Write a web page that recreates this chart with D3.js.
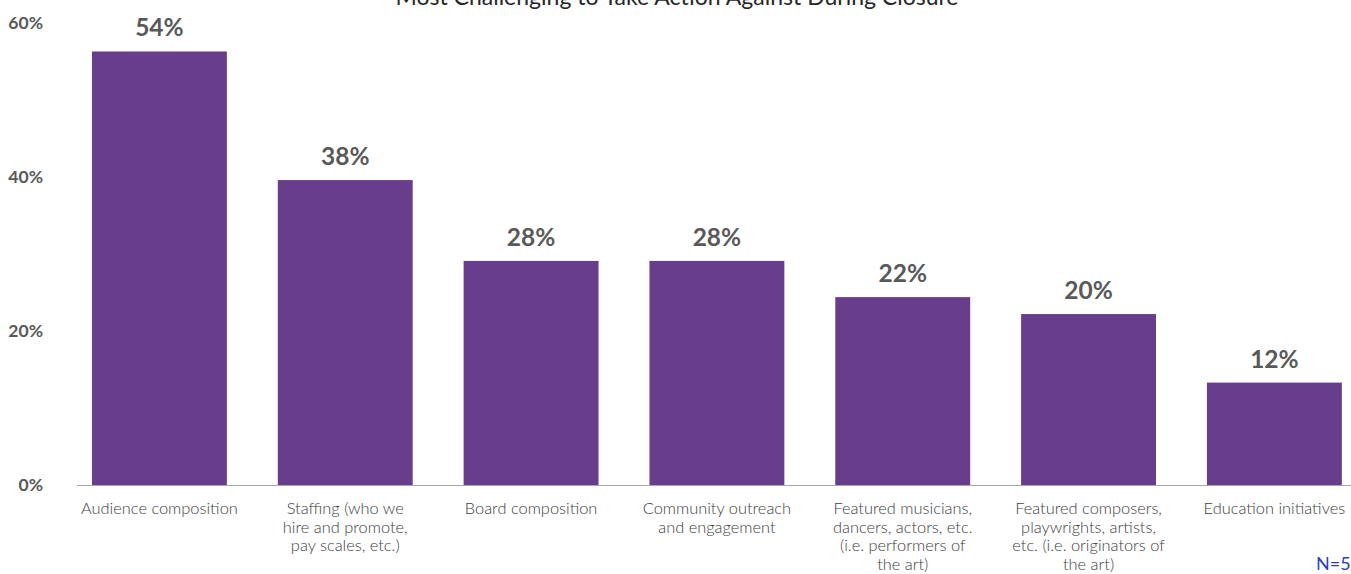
<!DOCTYPE html>
<html>
<head>
<meta charset="utf-8">
<script src="https://cdn.jsdelivr.net/npm/d3@7"></script>
<style>
  body { margin: 0; background: #fff; }
  svg { display: block; font-family: Lato, "Open Sans", sans-serif; }
</style>
</head>
<body>
<div id="chart"></div>
<script>
// data
let categories = [
  ['Audience composition'],
  ['Staffing (who we', 'hire and promote,', 'pay scales, etc.)'],
  ['Board composition'],
  ['Community outreach', 'and engagement'],
  ['Featured musicians,', 'dancers, actors, etc.', '(i.e. performers of', 'the art)'],
  ['Featured composers,', 'playwrights, artists,', 'etc. (i.e. originators of', 'the art)'],
  ['Education initiatives']
];
// bar heights as drawn against the axis
let values = [56.3, 39.6, 29.1, 29.1, 24.4, 22.2, 13.3];
// labels printed above the bars
let valueLabels = ['54%', '38%', '28%', '28%', '22%', '20%', '12%'];
let yTicks = [0, 20, 40, 60];
let title = 'Most Challenging to Take Action Against During Closure';

let width = 1351;
let height = 574;

let svg = d3.select('#chart').append('svg').attr('width', width).attr('height', height);

let x = d3.scaleBand()
  .domain(d3.range(categories.length))
  .range([66.5, 1367.3])
  .paddingInner(0.274)
  .paddingOuter(0.137);

let y = d3.scaleLinear().domain([0, 60]).range([485, 23]);

// titulo (cortado no topo, como no original)
svg.append('text')
  .attr('x', 677).attr('y', 5)
  .attr('text-anchor', 'middle')
  .attr('font-size', 23)
  .attr('fill', '#262626')
  .text(title);

// eixo y
let yAxis = d3.axisLeft(y).tickValues(yTicks).tickFormat(d => d + '%').tickSize(0).tickPadding(0);
let gy = svg.append('g').attr('transform', 'translate(43,0)').call(yAxis);
gy.select('.domain').remove();
gy.selectAll('text')
  .attr('font-family', 'Lato, sans-serif')
  .attr('font-size', 17.5)
  .attr('font-weight', 'bold')
  .attr('fill', '#595959');

// barras
svg.selectAll('rect.bar')
  .data(values)
  .enter().append('rect')
  .attr('class', 'bar')
  .attr('x', (d, i) => x(i))
  .attr('y', d => y(d))
  .attr('width', x.bandwidth())
  .attr('height', d => y(0) - y(d))
  .attr('fill', '#683d8c');

// linha base
svg.append('line')
  .attr('x1', 77).attr('x2', width)
  .attr('y1', y(0) + 0.5).attr('y2', y(0) + 0.5)
  .attr('stroke', '#a6a6a6')
  .attr('stroke-width', 1.2);

// rotulos de valor
svg.selectAll('text.val')
  .data(values)
  .enter().append('text')
  .attr('class', 'val')
  .attr('x', (d, i) => x(i) + x.bandwidth() / 2)
  .attr('y', d => y(d) - 15)
  .attr('text-anchor', 'middle')
  .attr('font-size', 24.5)
  .attr('font-weight', 'bold')
  .attr('fill', '#595959')
  .text((d, i) => valueLabels[i]);

// categorias
let cat = svg.selectAll('text.cat')
  .data(categories)
  .enter().append('text')
  .attr('class', 'cat')
  .attr('text-anchor', 'middle')
  .attr('font-size', 16.4)
  .attr('font-weight', 300)
  .attr('fill', '#404040')
  .attr('transform', (d, i) => 'translate(' + (x(i) + x.bandwidth() / 2) + ',514)');

cat.selectAll('tspan')
  .data(d => d)
  .enter().append('tspan')
  .attr('x', 0)
  .attr('y', (d, i) => i * 18.7)
  .text(d => d);

svg.append('text')
  .attr('x', 1316).attr('y', 570)
  .attr('font-size', 18)
  .attr('fill', '#2b3fb5')
  .text('N=5');
</script>
</body>
</html>
